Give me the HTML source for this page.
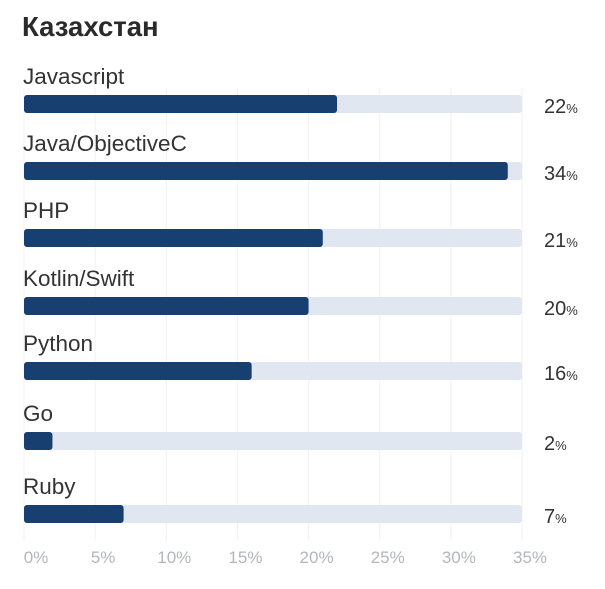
<!DOCTYPE html>
<html><head><meta charset="utf-8"><style>
body{margin:0;background:#fff;}
svg{display:block;font-family:"Liberation Sans","Noto Sans CJK SC",sans-serif;}
</style></head><body>
<svg id="chart" width="605" height="589">
<text x="22" y="36" font-size="27.5" font-weight="bold" fill="#2a2a2a">Казахстан</text>
<g id="grid"></g><g id="rows"></g><g id="ticks"></g>
</svg>
<script>
const categories=["Javascript","Java/ObjectiveC","PHP","Kotlin/Swift","Python","Go","Ruby"];
const values=[22,34,21,20,16,2,7];
const tickValues=[0,5,10,15,20,25,30,35];
const tickLabels=["0%","5%","10%","15%","20%","25%","30%","35%"];
const rowY=[95,162,229,297,362,432,505];
const NS="http://www.w3.org/2000/svg";
const x0=24,x1=522,vmax=35;
const xs=v=>x0+(x1-x0)*v/vmax;
function mk(t,a,p){const e=document.createElementNS(NS,t);for(const k in a)e.setAttribute(k,a[k]);p.appendChild(e);return e;}
const grid=document.getElementById('grid'),rows=document.getElementById('rows'),ticks=document.getElementById('ticks');
tickValues.forEach((v,i)=>{
 const l=mk('line',{x1:xs(v),x2:xs(v),y1:88,y2:540,stroke:'#f0f1f4','stroke-width':1},grid);
 
 
 const t=mk('text',{x:xs(v)+(v===0?12:8),y:563,'text-anchor':'middle','font-size':17,fill:'#b3b6bd'},ticks);
 t.textContent=tickLabels[i];
 
 
});
categories.forEach((c,i)=>{
 const y=rowY[i];
 const lab=mk('text',{x:23,y:y-11,'font-size':22.5,fill:'#333'},rows);
 lab.textContent=c;
 
 
 const tr=mk('rect',{x:x0,y:y,width:x1-x0,height:18,rx:3,fill:'#e1e7f0'},rows);
 
 
 const b=mk('rect',{x:x0,y:y,width:xs(values[i])-x0,height:18,rx:3,fill:'#173f70'},rows);
 
 
 const vt=mk('text',{x:544,y:y+18,'font-size':20,fill:'#333'},rows);
 
 
 const n=mk('tspan',{},vt);n.textContent=values[i];
 const p=mk('tspan',{'font-size':13},vt);p.textContent='%';
});
</script>
</body></html>
